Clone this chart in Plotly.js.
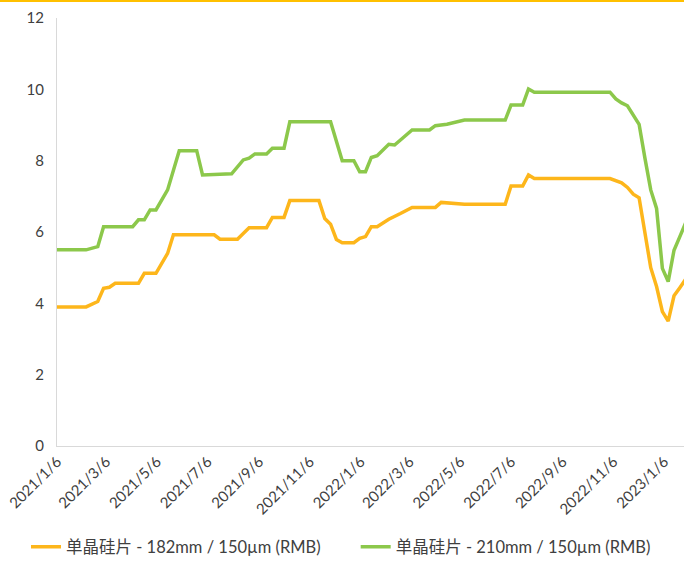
<!DOCTYPE html>
<html>
<head>
<meta charset="utf-8">
<script src="https://cdn.plot.ly/plotly-3.0.1.min.js"></script>
<style>html,body{margin:0;padding:0;background:#fff;}#chart{width:684px;height:561px;}</style>
</head>
<body>
<div id="chart"></div>
<script>
// Series 1: 单晶硅片 - 182mm / 150µm (RMB)
const dates182 = ["2021-01-06","2021-02-10","2021-02-24","2021-03-03","2021-03-10","2021-03-17","2021-04-14","2021-04-21","2021-05-05","2021-05-19","2021-05-26","2021-07-14","2021-07-21","2021-08-11","2021-08-25","2021-09-15","2021-09-22","2021-10-06","2021-10-13","2021-11-17","2021-11-24","2021-12-01","2021-12-08","2021-12-15","2021-12-29","2022-01-05","2022-01-12","2022-01-19","2022-01-26","2022-02-09","2022-02-23","2022-03-09","2022-04-06","2022-04-13","2022-05-11","2022-06-29","2022-07-06","2022-07-20","2022-07-27","2022-08-03","2022-11-02","2022-11-09","2022-11-16","2022-11-23","2022-11-30","2022-12-07","2022-12-14","2022-12-21","2022-12-28","2023-01-04","2023-01-11","2023-01-18","2023-01-25","2023-02-01"];
const price182 = [3.9,3.9,4.05,4.42,4.45,4.56,4.56,4.84,4.84,5.40,5.92,5.92,5.8,5.8,6.12,6.12,6.41,6.41,6.88,6.88,6.38,6.22,5.79,5.70,5.70,5.82,5.87,6.15,6.15,6.36,6.52,6.69,6.69,6.83,6.78,6.78,7.29,7.29,7.60,7.50,7.50,7.45,7.38,7.25,7.06,6.96,6.01,5.0,4.47,3.77,3.50,4.21,4.44,4.68];

// Series 2: 单晶硅片 - 210mm / 150µm (RMB)
const dates210 = ["2021-01-06","2021-02-10","2021-02-24","2021-03-03","2021-04-07","2021-04-14","2021-04-21","2021-04-28","2021-05-05","2021-05-19","2021-06-02","2021-06-23","2021-06-30","2021-08-04","2021-08-18","2021-08-25","2021-09-01","2021-09-15","2021-09-22","2021-10-06","2021-10-13","2021-12-01","2021-12-15","2021-12-29","2022-01-05","2022-01-12","2022-01-19","2022-01-26","2022-02-09","2022-02-16","2022-02-23","2022-03-09","2022-03-30","2022-04-06","2022-04-20","2022-05-11","2022-06-29","2022-07-06","2022-07-20","2022-07-27","2022-08-03","2022-11-02","2022-11-09","2022-11-16","2022-11-23","2022-11-30","2022-12-07","2022-12-14","2022-12-21","2022-12-28","2023-01-04","2023-01-11","2023-01-18","2023-01-25","2023-02-01"];
const price210 = [5.5,5.5,5.59,6.15,6.15,6.34,6.34,6.62,6.62,7.18,8.28,8.28,7.6,7.63,8.02,8.07,8.19,8.19,8.35,8.35,9.09,9.09,8.0,8.0,7.69,7.69,8.09,8.14,8.46,8.44,8.58,8.86,8.86,8.98,9.02,9.14,9.14,9.56,9.56,10.01,9.92,9.92,9.73,9.62,9.54,9.28,9.02,8.07,7.18,6.66,4.98,4.61,5.49,5.87,6.26];

const seriesNames = ["单晶硅片 - 182mm / 150µm (RMB)", "单晶硅片 - 210mm / 150µm (RMB)"];
const tickDates = ["2021-01-06","2021-03-06","2021-05-06","2021-07-06","2021-09-06","2021-11-06","2022-01-06","2022-03-06","2022-05-06","2022-07-06","2022-09-06","2022-11-06","2023-01-06"];
const tickLabels = ["2021/1/6","2021/3/6","2021/5/6","2021/7/6","2021/9/6","2021/11/6","2022/1/6","2022/3/6","2022/5/6","2022/7/6","2022/9/6","2022/11/6","2023/1/6"];

const FONT = "Lato, 'Noto Sans CJK SC', sans-serif";

const traces = [
  {x: dates182, y: price182, name: seriesNames[0], type: "scatter", mode: "lines",
   line: {color: "#FDB61B", width: 3.5}, legend: "legend"},
  {x: dates210, y: price210, name: seriesNames[1], type: "scatter", mode: "lines",
   line: {color: "#8CC84B", width: 3.5}, legend: "legend2"}
];

const legendBase = {orientation: "h", xref: "container", yref: "container", xanchor: "left",
  y: 0.025, yanchor: "middle", font: {family: FONT, size: 16.5, color: "#404040"}};

const layout = {
  width: 684, height: 561,
  margin: {l: 57, r: 0, t: 18, b: 115, pad: 0},
  paper_bgcolor: "#fff", plot_bgcolor: "#fff",
  font: {family: FONT, size: 15, color: "#404040"},
  showlegend: true,
  legend: Object.assign({}, legendBase, {x: 0.038}),
  legend2: Object.assign({}, legendBase, {x: 0.52}),
  xaxis: {type: "date", range: ["2021-01-06", "2023-01-30"], tickmode: "array",
          tickvals: tickDates, ticktext: tickLabels, tickangle: -45,
          showgrid: false, zeroline: false, showline: true, linecolor: "#D9D9D9", linewidth: 1,
          ticks: "", tickfont: {family: FONT, size: 15, color: "#404040"}},
  yaxis: {range: [0, 12], dtick: 2, tick0: 0, showgrid: false, zeroline: false,
          showline: true, linecolor: "#D9D9D9", linewidth: 1, ticks: "",
          ticklabelstandoff: 9, tickfont: {family: FONT, size: 15, color: "#404040"}},
  shapes: [{type: "line", xref: "paper", yref: "paper", x0: -0.2, x1: 1.2,
            y0: 1.0397, y1: 1.0397, line: {color: "#FFC000", width: 2}}]
};

Plotly.newPlot("chart", traces, layout, {displayModeBar: false, staticPlot: true});
</script>
</body>
</html>
